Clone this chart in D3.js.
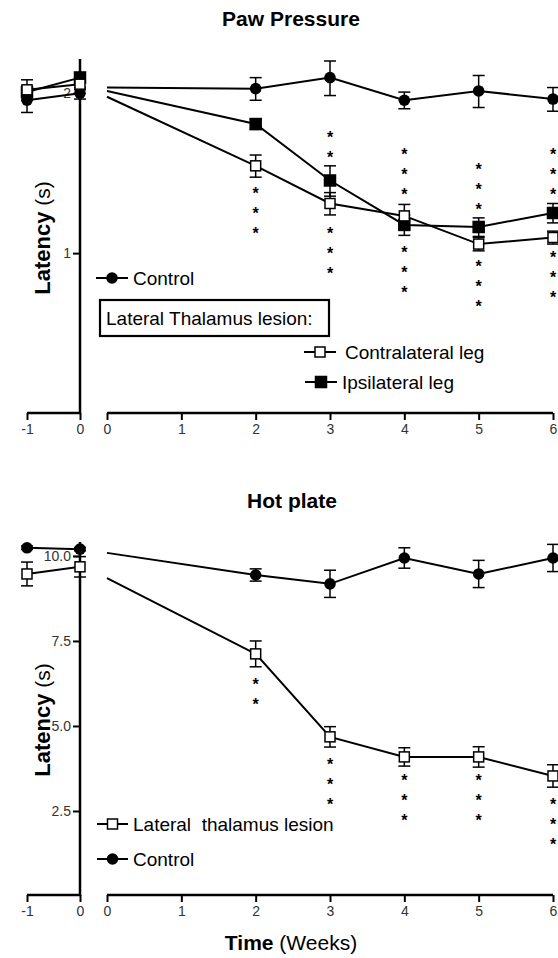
<!DOCTYPE html>
<html><head><meta charset="utf-8">
<script src="https://cdn.jsdelivr.net/npm/d3@7"></script>
<style>body{margin:0;background:#fff}svg{display:block}text{font-family:Arial,"Liberation Sans",sans-serif}</style>
</head><body><svg id="c" width="558" height="958"></svg>
<script>
// ---------- data ----------
const weeks = [0, 2, 3, 4, 5, 6];
const baseWeeks = [-1, 0];
const xTicksMain = [0, 1, 2, 3, 4, 5, 6];
const xTicksBase = [-1, 0];

// Paw pressure (latency, s)
const pawControl = [2.05, 2.04, 2.14, 1.94, 2.02, 1.95];
const pawControlErr = [null, 0.10, 0.16, 0.07, 0.14, 0.10];
const pawContra = [1.97, 1.46, 1.24, 1.175, 1.04, 1.07];
const pawContraErr = [null, 0.07, 0.06, 0.06, 0.03, 0.03];
const pawIpsi = [2.02, 1.75, 1.37, 1.13, 1.12, 1.19];
const pawIpsiErr = [null, 0.04, 0.09, 0.05, 0.045, 0.05];
const pawBaseControl = [1.94, 2.00], pawBaseControlErr = [0.10, 0.05];
const pawBaseContra = [2.03, 2.08], pawBaseContraErr = [0.09, 0.05];
const pawBaseIpsi = [2.01, 2.14], pawBaseIpsiErr = [0.05, 0.05];
const pawYTicks = [1, 2];
const pawStarsAboveWeeks = [3, 4, 5, 6], pawStarsAboveN = [2, 3, 3, 3], pawStarsAboveAt = [1.54, 1.31, 1.23, 1.31];
const pawStarsBelowWeeks = [2, 3, 4, 5, 6], pawStarsBelowN = [3, 3, 3, 3, 3], pawStarsBelowAt = [1.32, 1.11, 1.02, 0.96, 1.00];

// Hot plate (latency, s)
const hotControl = [10.09, 9.44, 9.18, 9.94, 9.47, 9.94];
const hotControlErr = [null, 0.18, 0.40, 0.30, 0.40, 0.40];
const hotLesion = [9.35, 7.12, 4.68, 4.09, 4.09, 3.53];
const hotLesionErr = [null, 0.38, 0.30, 0.27, 0.30, 0.33];
const hotBaseControl = [10.24, 10.20], hotBaseControlErr = [0.05, 0.05];
const hotBaseLesion = [9.47, 9.68], hotBaseLesionErr = [0.35, 0.30];
const hotYTicks = [2.5, 5.0, 7.5, 10.0];
const hotStarsWeeks = [2, 3, 4, 5, 6], hotStarsN = [2, 3, 3, 3, 3], hotStarsAt = [6.35, 3.97, 3.5, 3.5, 2.82];

// ---------- drawing ----------
const svg = d3.select("#c");
const xMain = d3.scaleLinear().domain([0, 6]).range([107, 553]);
const xBase = d3.scaleLinear().domain([-1, 0]).range([27, 80]);
const AX = 80;
const intFmt = d => String(d); // plain hyphen for negatives

function drawAxes(y, yTop, yBottom, yTicks, fmt) {
  const g = svg.append("g");
  g.append("line").attr("x1", AX).attr("x2", AX).attr("y1", yTop).attr("y2", yBottom + 1)
    .attr("stroke", "#000").attr("stroke-width", 2.5);
  const ya = d3.axisLeft(y).tickValues(yTicks).tickFormat(fmt).tickSize(7).tickPadding(2);
  const yg = g.append("g").attr("transform", `translate(${AX},0)`).call(ya);
  yg.select(".domain").remove();
  yg.selectAll(".tick line").attr("stroke", "#000").attr("stroke-width", 2);
  yg.selectAll(".tick text").attr("font-size", 14).attr("fill", "#333").attr("font-family", "Arial, Liberation Sans, sans-serif");
  const xaB = d3.axisBottom(xBase).tickValues(xTicksBase).tickSize(7).tickPadding(4).tickFormat(intFmt);
  const xgB = g.append("g").attr("transform", `translate(0,${yBottom})`).call(xaB);
  const xaM = d3.axisBottom(xMain).tickValues(xTicksMain).tickSize(7).tickPadding(4).tickFormat(intFmt);
  const xgM = g.append("g").attr("transform", `translate(0,${yBottom})`).call(xaM);
  [xgB, xgM].forEach(xg => {
    xg.select(".domain").attr("stroke", "#000").attr("stroke-width", 2.5);
    xg.selectAll(".tick line").attr("stroke", "#000").attr("stroke-width", 2);
    xg.selectAll(".tick text").attr("font-size", 14).attr("fill", "#333").attr("font-family", "Arial, Liberation Sans, sans-serif");
  });
  xgB.select(".domain").attr("d", `M${xBase(-1)},0H${xBase(0)}`);
  xgM.select(".domain").attr("d", `M${xMain(0)},0H${xMain(6)}`);
}

function series(xs, vals, errs, xScale, y, marker) {
  const g = svg.append("g");
  const pts = xs.map((w, i) => ({ w, v: vals[i], e: errs[i] }));
  g.append("path").datum(pts)
    .attr("d", d3.line().x(d => xScale(d.w)).y(d => y(d.v)))
    .attr("fill", "none").attr("stroke", "#000").attr("stroke-width", 2);
  const mk = pts.filter(d => d.e != null);
  mk.forEach(d => {
    const cx = xScale(d.w), y1 = y(d.v + d.e), y2 = y(d.v - d.e);
    g.append("line").attr("x1", cx).attr("x2", cx).attr("y1", y1).attr("y2", y2).attr("stroke", "#000").attr("stroke-width", 1.5);
    [y1, y2].forEach(yy => g.append("line").attr("x1", cx - 6).attr("x2", cx + 6).attr("y1", yy).attr("y2", yy).attr("stroke", "#000").attr("stroke-width", 1.5));
  });
  mk.forEach(d => drawMarker(g, xScale(d.w), y(d.v), marker));
}

function drawMarker(g, cx, cy, marker) {
  if (marker === "circle") {
    g.append("circle").attr("cx", cx).attr("cy", cy).attr("r", 5.8).attr("fill", "#000");
  } else {
    const s = marker === "open" ? 10 : 11;
    g.append("rect").attr("x", cx - s / 2).attr("y", cy - s / 2).attr("width", s).attr("height", s)
      .attr("fill", marker === "open" ? "#fff" : "#000").attr("stroke", "#000").attr("stroke-width", 1.5);
  }
}

function stars(wk, n, at, y, dir) {
  const g = svg.append("g");
  wk.forEach((w, i) => {
    for (let k = 0; k < n[i]; k++) {
      const cy = y(at[i]) + dir * k * 20;
      g.append("text").attr("x", xMain(w)).attr("y", cy + 9.5).attr("text-anchor", "middle")
        .attr("font-size", 16).attr("font-weight", "bold").attr("fill", "#000").text("*");
    }
  });
}

function legendItem(x1, x2, yy, marker, label, tx) {
  const g = svg.append("g");
  g.append("line").attr("x1", x1).attr("x2", x2).attr("y1", yy).attr("y2", yy).attr("stroke", "#000").attr("stroke-width", 2);
  drawMarker(g, (x1 + x2) / 2, yy, marker);
  g.append("text").attr("x", tx).attr("y", yy + 7).attr("font-size", 19).attr("fill", "#000")
    .style("white-space", "pre").text(label);
}

function yLabel(cy) {
  const t = svg.append("text").attr("transform", `translate(50,${cy}) rotate(-90)`).attr("text-anchor", "middle").attr("fill", "#000");
  t.append("tspan").attr("font-size", 22).attr("font-weight", "bold").text("Latency");
  t.append("tspan").attr("font-size", 21).text(" (s)");
}

// ===== Paw Pressure =====
const yPaw = d3.scaleLog().domain([0.5, 2.32]).range([413, 59]);
svg.append("text").attr("x", 291).attr("y", 26).attr("text-anchor", "middle").attr("font-size", 21).attr("font-weight", "bold").text("Paw Pressure");
drawAxes(yPaw, 59, 413, pawYTicks, intFmt);
yLabel(238);
series(baseWeeks, pawBaseIpsi, pawBaseIpsiErr, xBase, yPaw, "filled");
series(baseWeeks, pawBaseControl, pawBaseControlErr, xBase, yPaw, "circle");
series(baseWeeks, pawBaseContra, pawBaseContraErr, xBase, yPaw, "open");
series(weeks, pawControl, pawControlErr, xMain, yPaw, "circle");
series(weeks, pawIpsi, pawIpsiErr, xMain, yPaw, "filled");
series(weeks, pawContra, pawContraErr, xMain, yPaw, "open");
stars(pawStarsAboveWeeks, pawStarsAboveN, pawStarsAboveAt, yPaw, -1);
stars(pawStarsBelowWeeks, pawStarsBelowN, pawStarsBelowAt, yPaw, 1);
legendItem(96, 128, 278, "circle", "Control", 133);
svg.append("rect").attr("x", 100).attr("y", 300).attr("width", 229).attr("height", 36).attr("fill", "#fff").attr("stroke", "#000").attr("stroke-width", 2.2);
svg.append("text").attr("x", 106).attr("y", 325).attr("font-size", 19).text("Lateral Thalamus lesion:");
legendItem(304, 336, 352, "open", "Contralateral leg", 345);
legendItem(305, 337, 382, "filled", "Ipsilateral leg", 342);

// ===== Hot plate =====
const yHot = d3.scaleLinear().domain([0, 10.41]).range([896, 542]);
svg.append("text").attr("x", 292).attr("y", 508).attr("text-anchor", "middle").attr("font-size", 21).attr("font-weight", "bold").text("Hot plate");
drawAxes(yHot, 542, 895, hotYTicks, d3.format(".1f"));
yLabel(720);
series(baseWeeks, hotBaseLesion, hotBaseLesionErr, xBase, yHot, "open");
series(baseWeeks, hotBaseControl, hotBaseControlErr, xBase, yHot, "circle");
series(weeks, hotControl, hotControlErr, xMain, yHot, "circle");
series(weeks, hotLesion, hotLesionErr, xMain, yHot, "open");
stars(hotStarsWeeks, hotStarsN, hotStarsAt, yHot, 1);
legendItem(97, 128, 824, "open", "Lateral  thalamus lesion", 133);
legendItem(97, 128, 859, "circle", "Control", 133);

const tx = svg.append("text").attr("x", 291).attr("y", 950).attr("text-anchor", "middle").attr("fill", "#000");
tx.append("tspan").attr("font-size", 21).attr("font-weight", "bold").text("Time");
tx.append("tspan").attr("font-size", 21).text(" (Weeks)");
</script></body></html>
